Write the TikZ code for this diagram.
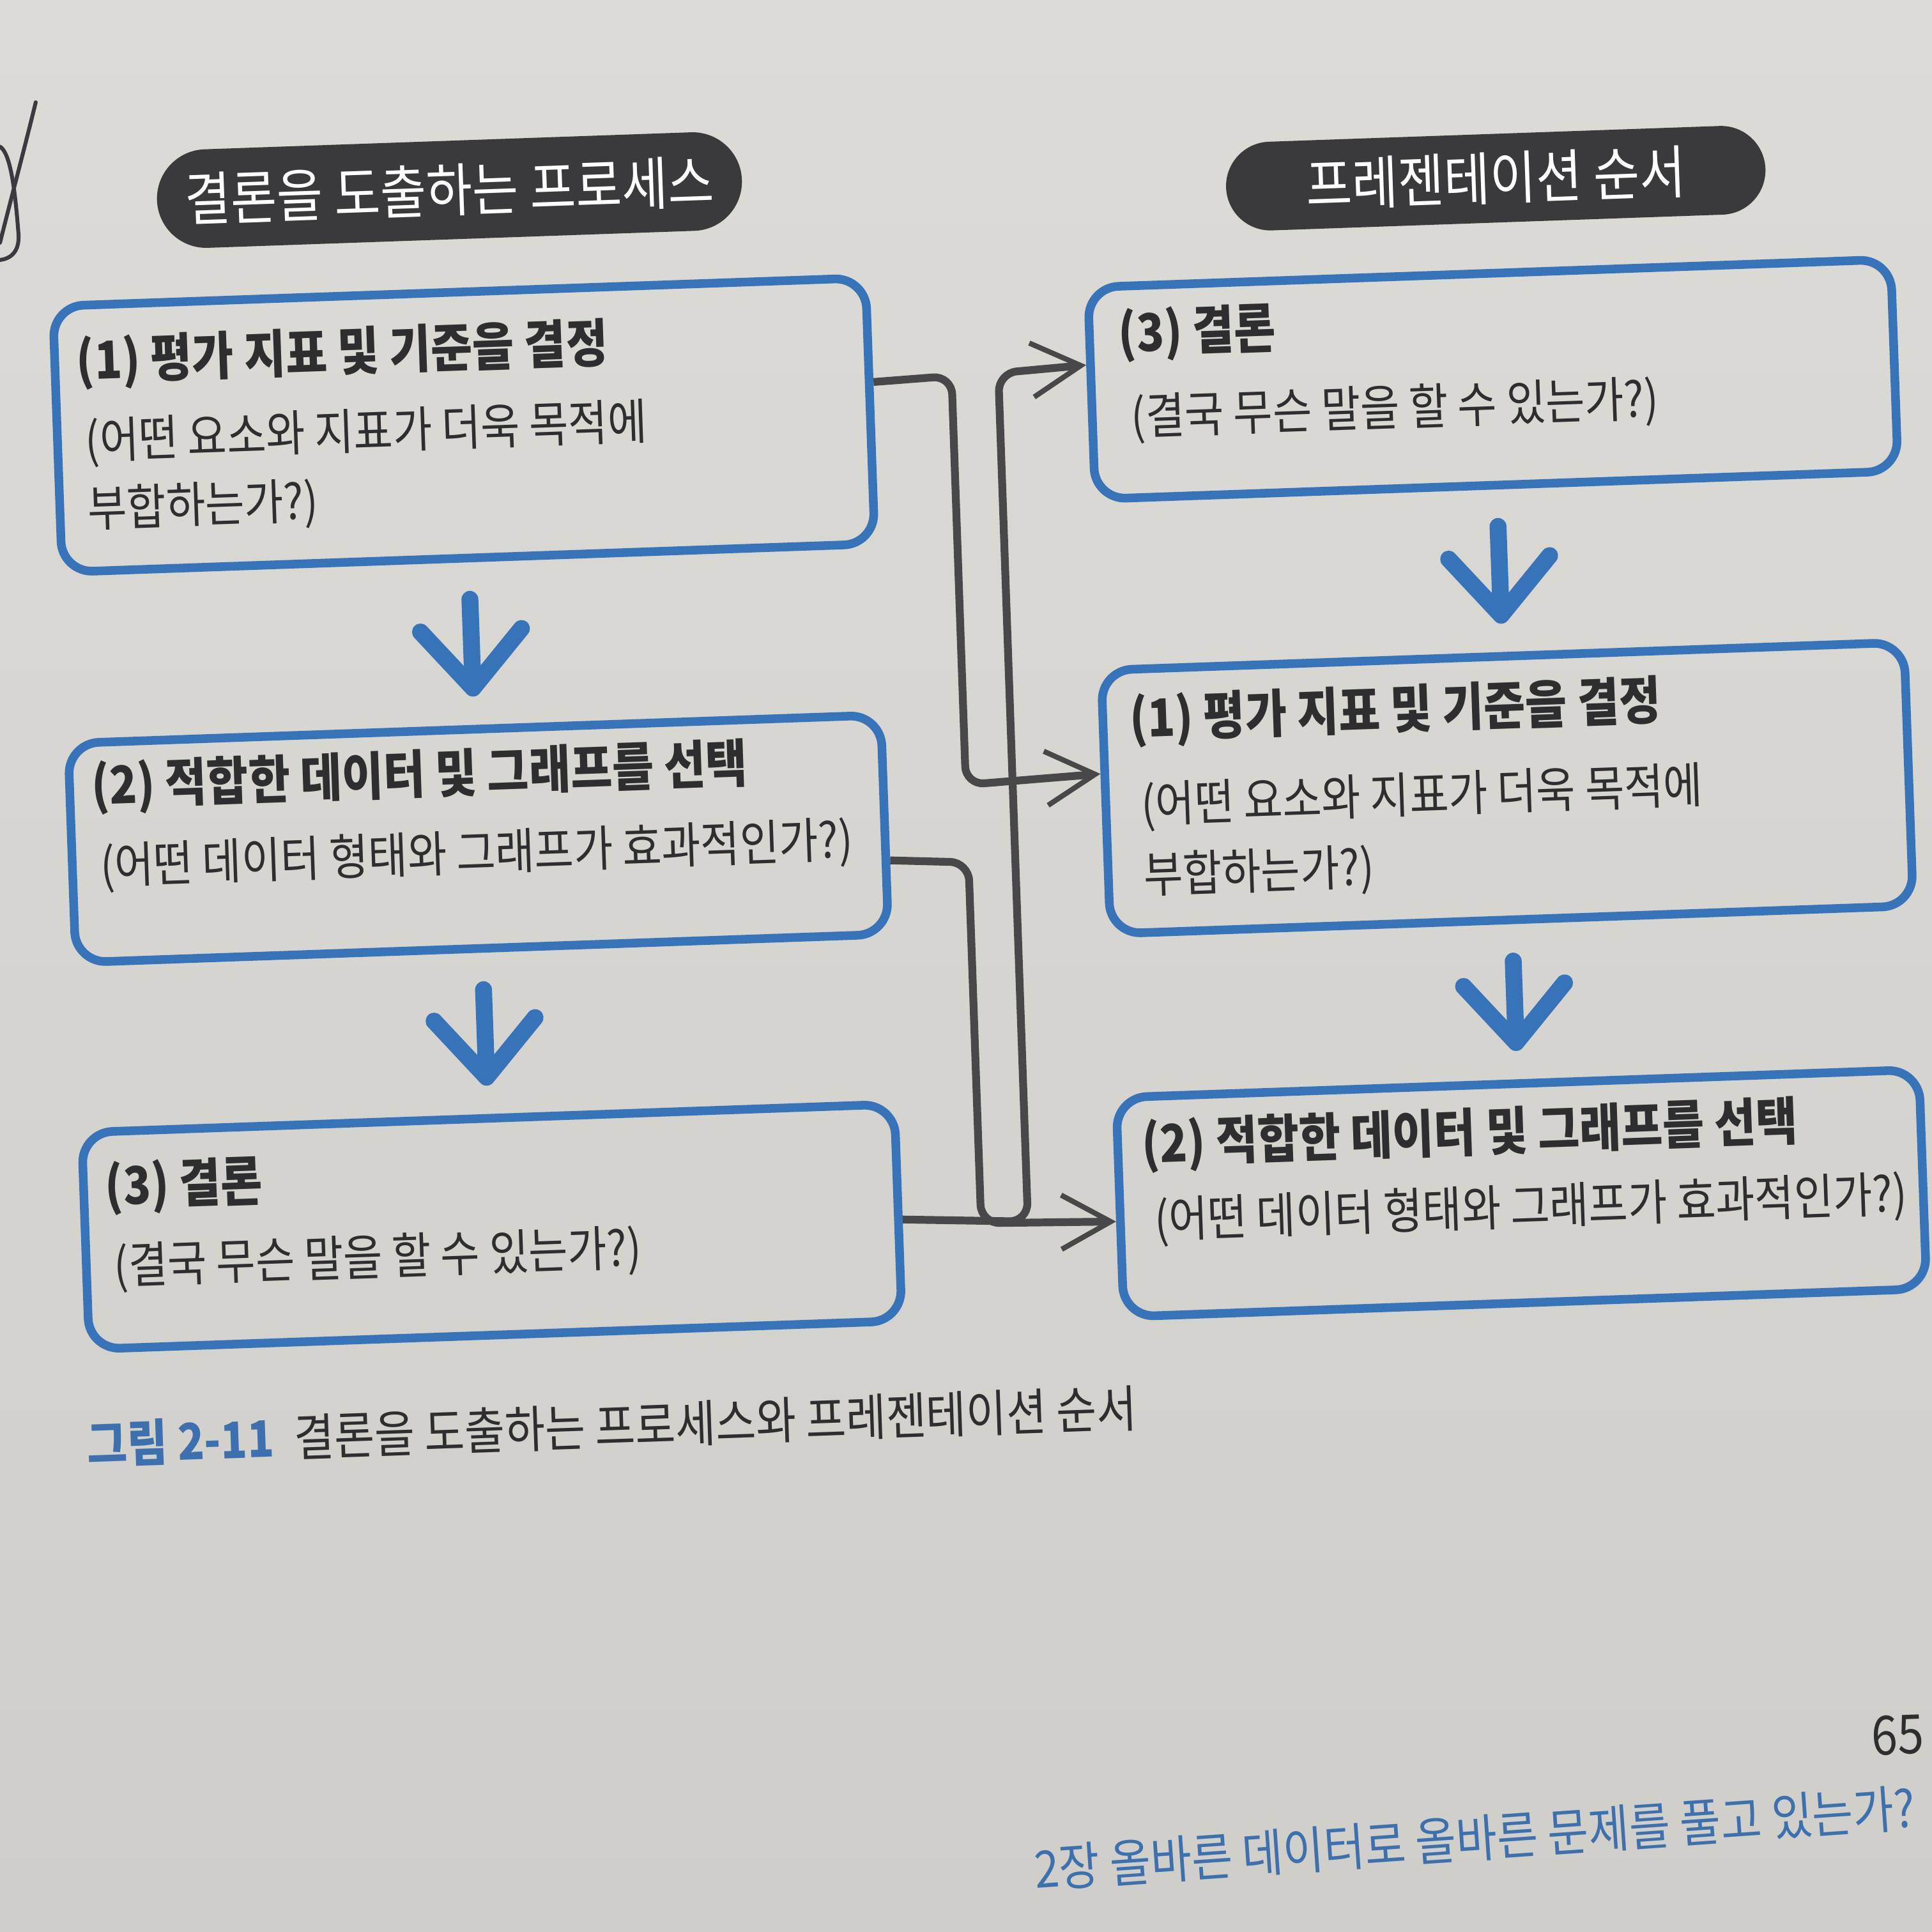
\documentclass[tikz,border=0pt]{standalone}
\usepackage{fontspec}
\setmainfont{Noto Sans CJK KR}[FakeStretch=0.87]
\usetikzlibrary{arrows.meta}
\definecolor{paperA}{HTML}{DCDBD6}
\definecolor{paperB}{HTML}{CFCEC8}
\definecolor{bblue}{HTML}{3773B9}
\definecolor{ink}{HTML}{2E2E30}
\definecolor{conn}{HTML}{48484B}
\definecolor{pill}{HTML}{3A3A3C}
\definecolor{capblue}{HTML}{3C70AE}
\definecolor{pencil}{HTML}{3C3A40}
\tikzset{
  box/.style={draw=bblue, line width=2pt, rounded corners=2.5mm, minimum width=66mm, inner sep=0pt},
  rbox/.style={box, minimum width=65.2mm},
  pillbox/.style={fill=pill, text=white, inner sep=0pt, font=\fontsize{13.3}{15}\selectfont},
  ttl/.style={anchor=west, inner sep=0pt, text=ink, font=\fontsize{12}{14}\selectfont\bfseries},
  sub/.style={anchor=west, inner sep=0pt, text=ink, font=\fontsize{11.3}{13}\selectfont},
  flow/.style={draw=conn, line width=1.8pt, rounded corners=1.5mm,
    -{Straight Barb[length=4mm,width=4.4mm,line width=1.2pt]}},
  down/.style={draw=bblue, line width=3.9pt, line cap=round,
    -{Straight Barb[length=4.7mm,width=8.2mm,round]}, shorten <=3mm, shorten >=2.3mm},
  scrib/.style={draw=pencil, line width=0.9pt, line cap=round}
}
\begin{document}
\begin{tikzpicture}[x=0.1mm,y=-0.1mm]
\shade[top color=paperA, bottom color=paperB] (0,0) rectangle (1568,1568);
\useasboundingbox (0,0) rectangle (1568,1568);
% pencil mark at the page edge
\draw[scrib] (29,83) .. controls (20,120) and (8,165) .. (0,197);
\draw[scrib] (0,119) .. controls (8,124) and (12,150) .. (15,190) .. controls (16,205) and (8,210) .. (0,211);
\begin{scope}[shift={(784,784)}, rotate=2, shift={(-784,-784)}, transform shape]
  % headers
  \node[pillbox, minimum width=47.5mm, minimum height=8mm, rounded corners=4mm] (HL) at (387,140) {결론을 도출하는 프로세스};
  \node[pillbox, minimum width=43.8mm, minimum height=7.2mm, rounded corners=3.6mm] (HR) at (1236,160) {프레젠테이션 순서};
  % boxes
  \node[box, minimum height=21.6mm] (L1) at (392,331) {};
  \node[box, minimum height=17.8mm] (L2) at (392,667) {};
  \node[box, minimum height=17.6mm] (L3) at (392,982) {};
  \node[rbox, minimum height=17.2mm] (R1) at (1228,323) {};
  \node[rbox, minimum height=21.4mm] (R2) at (1228,655) {};
  \node[rbox, minimum height=17.8mm] (R3) at (1228,984) {};
  % texts
  \node[ttl] (L1t) at (79,270) {(1) 평가 지표 및 기준을 결정};
  \node[sub] (L1a) at (84,335) {(어떤 요소와 지표가 더욱 목적에};
  \node[sub] (L1b) at (84,390) {부합하는가?)};
  \node[ttl] (L2t) at (79,615) {(2) 적합한 데이터 및 그래프를 선택};
  \node[sub] (L2a) at (84,680) {(어떤 데이터 형태와 그래프가 효과적인가?)};
  \node[ttl] (L3t) at (79,940) {(3) 결론};
  \node[sub] (L3a) at (84,1005) {(결국 무슨 말을 할 수 있는가?)};
  \node[ttl] (R1t) at (925,277) {(3) 결론};
  \node[sub] (R1a) at (933,345) {(결국 무슨 말을 할 수 있는가?)};
  \node[ttl] (R2t) at (923,590) {(1) 평가 지표 및 기준을 결정};
  \node[sub] (R2a) at (930,660) {(어떤 요소와 지표가 더욱 목적에};
  \node[sub] (R2b) at (930,717) {부합하는가?)};
  \node[ttl] (R3t) at (921,935) {(2) 적합한 데이터 및 그래프를 선택};
  \node[sub] (R3a) at (929,997) {(어떤 데이터 형태와 그래프가 효과적인가?)};
  % blue down arrows
  \draw[down] (L1.south) -- (L2.north);
  \draw[down] (L2.south) -- (L3.north);
  \draw[down] (R1.south) -- (R2.north);
  \draw[down] (R2.south) -- (R3.north);
  % connector corners
  \coordinate (k1a) at (789,305);
  \coordinate (k1b) at (789,637);
  \coordinate (k2a) at (789,700);
  \coordinate (k2b) at (789,993);
  \coordinate (k3a) at (827,993);
  \coordinate (k3b) at (827,304);
  \draw[flow] (L1.4.43) -- (k1a) -- (k1b) -- (R2.176.9);
  \draw[flow] (L2.-5.61) -- (k2a) -- (k2b) -- (R3.-178.45);
  \draw[flow] (L3.-1.87) -- (k3a) -- (k3b) -- (R1.176.72);
  % caption and page furniture
  \node[anchor=west, inner sep=0pt, text=ink, font=\fontsize{11.6}{14}\selectfont] (cap) at (57,1147)
    {\textcolor{capblue}{\bfseries 그림 2-11}\hspace{0.4em}결론을 도출하는 프로세스와 프레젠테이션 순서};
  \node[inner sep=0pt, text=ink, font=\fontsize{12.5}{14}\selectfont] (pg) at (1518,1434) {65};
  \node[inner sep=0pt, text=capblue, rotate=2, font=\fontsize{11.8}{14}\selectfont] (ft) at (1172,1506)
    {2장 올바른 데이터로 올바른 문제를 풀고 있는가?};
\end{scope}
\end{tikzpicture}
\end{document}
